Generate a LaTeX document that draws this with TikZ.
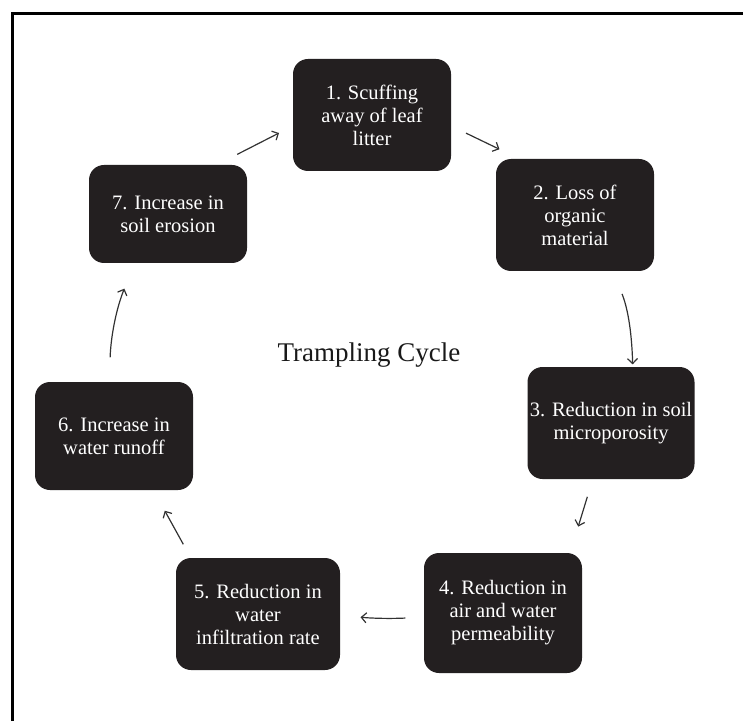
\documentclass[tikz,border=0pt]{standalone}
\usepackage{fontspec}
\setmainfont{Liberation Serif}
\usepackage{tikz}
\usetikzlibrary{arrows.meta}

\definecolor{boxfill}{RGB}{35,31,32}
\definecolor{arrowgray}{RGB}{50,50,50}

\begin{document}
\begin{tikzpicture}
	[->,>={Straight Barb[length=5pt,width=10pt]},x=1pt,y=1pt,
		line width=1.2pt,draw=arrowgray,
		cycle node/.style={rectangle,rounded corners=15pt,fill=boxfill,draw=none,text=white,
			minimum width=158pt,minimum height=112pt,inner sep=2pt,align=center,
			font=\fontsize{20.5}{23}\selectfont},
		title node/.style={font=\fontsize{27}{30}\selectfont,text=black!90}]

	\useasboundingbox (0,0) rectangle (743,721);
	\draw[-,line width=3pt,draw=black] (12,0) -- (12,707) -- (743,707);

	\node[cycle node] (S1) at (372,606) {1. Scuffing\\away of leaf\\litter};
	\node[cycle node] (S2) at (575,506) {2. Loss of\\organic\\material};
	\node[cycle node,minimum width=167pt] (S3) at (611,298) {3. Reduction in soil\\microporosity};
	\node[cycle node,minimum height=120pt] (S4) at (503,108) {4. Reduction in\\air and water\\permeability};
	\node[cycle node,minimum width=164pt] (S5) at (258,107) {5. Reduction in\\water\\infiltration rate};
	\node[cycle node,minimum height=108pt] (S6) at (114,285) {6. Increase in\\water runoff};
	\node[cycle node,minimum height=98pt] (S7) at (168,507) {7. Increase in\\soil erosion};
	\node[title node] (T) at (369,366) {Trampling Cycle};

	\path[]
	(S7.45)  edge [shorten <=22pt,shorten >=15pt]   (S1.188)
	(S1.-8)  edge [shorten <=16pt,shorten >=21pt]   (S2.135)
	(S2.-56) edge [bend left=10,shorten <=24pt,shorten >=2pt]   (S3.69)
	(S3.252) edge [shorten <=18pt,shorten >=27pt]   (S4.42)
	(S4.183) edge [bend left=4,shorten <=18pt,shorten >=20pt]   (S5.-1)
	(S5.140) edge [shorten <=15pt,shorten >=23pt]   (S6.-54)
	(S6.95)  edge [bend left=10,shorten <=24pt,shorten >=27pt]   (S7.236)
	;

\end{tikzpicture}
\end{document}
